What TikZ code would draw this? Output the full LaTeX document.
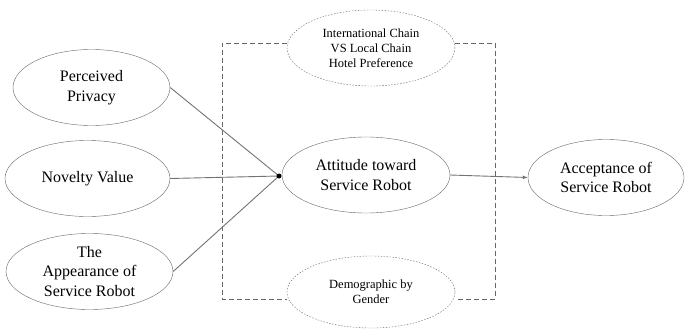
\documentclass[tikz,border=0pt]{standalone}
\usepackage{fontspec}
\setmainfont{Liberation Serif}
\newfontfamily\figfont{Liberation Serif}
\usetikzlibrary{shapes.geometric,arrows.meta}

\tikzset{
  factor/.style={draw=black!60, ellipse, inner sep=0pt, align=center,
    minimum height=76pt, font=\figfont\fontsize{16}{19.5}\selectfont},
  moderator/.style={factor, dash pattern=on 1.5pt off 1.5pt,
    font=\figfont\fontsize{12.5}{15}\selectfont},
  link/.style={draw=black!55, line width=0.9pt},
  frame/.style={draw=black!60, dash pattern=on 5pt off 3pt}
}

\begin{document}
\begin{tikzpicture}[x=1pt,y=-1pt]
    \useasboundingbox (0,0) rectangle (685,329);
    % antecedents
    \node[factor, minimum width=157pt] (privacy) at (91.5,87.5) {Perceived\\Privacy};
    \node[factor, minimum width=165pt] (novelty) at (87.5,178.5) {Novelty Value};
    \node[factor, minimum width=167pt] (appear) at (89.5,271.5) {The\\Appearance of\\Service Robot};
    % mediator and outcome
    \node[factor, minimum width=168pt] (attitude) at (366,175) {Attitude toward\\Service Robot};
    \node[factor, minimum width=156pt] (accept) at (606,177.5) {Acceptance of\\Service Robot};
    % moderators
    \node[moderator, minimum width=168pt] (hotel) at (371,48) {International Chain\\VS Local Chain\\Hotel Preference};
    \node[moderator, minimum width=168pt, minimum height=72pt] (gender) at (371,292) {Demographic by\\Gender};
    \coordinate (join) at (279,176);
    \coordinate (tl) at (222,43);
    \coordinate (bl) at (222,299);
    \coordinate (tr) at (495,43);
    \coordinate (br) at (495,299);
    \draw[frame] (hotel.west |- tl) -- (tl) -- (bl) -- (gender.west |- bl);
    \draw[frame] (hotel.east |- tr) -- (tr) -- (br) -- (gender.east |- br);
    \draw[link] (privacy.east) -- (join);
    \draw[link] (novelty.east) -- (join);
    \draw[link] (appear.east) -- (join);
    \fill[black] (join) circle (2.5pt);
    \draw[link, -{Latex[length=5pt,width=4pt]}] (attitude.east) -- (accept.west);
\end{tikzpicture}
\end{document}
